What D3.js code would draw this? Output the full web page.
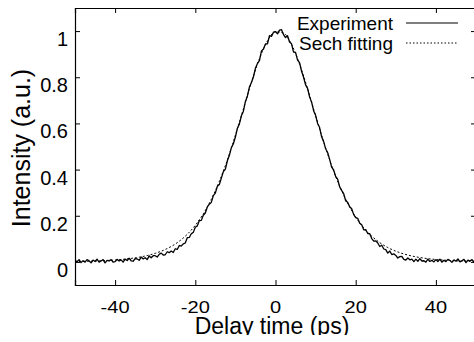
<!DOCTYPE html>
<html><head><meta charset="utf-8">
<script src="https://cdn.jsdelivr.net/npm/d3@7"></script>
<style>
html,body{margin:0;padding:0;background:#fff;}
svg{display:block;font-family:"Liberation Sans",Arial,Helvetica,sans-serif;}
</style></head>
<body>
<script>
// Experimental autocorrelation trace, delay from -50 ps to 50 ps in 0.5 ps steps
const expStart = -50, expStep = 0.5;
const expValues = [
0.008,0.000,0.010,-0.003,0.005,-0.001,0.010,0.005,-0.004,0.008,
0.002,0.012,-0.001,0.004,0.010,-0.004,0.007,0.004,0.010,-0.001,
0.001,0.011,0.004,0.009,-0.001,0.012,0.006,0.016,0.005,0.003,
0.014,0.013,0.007,0.021,0.013,0.018,0.010,0.026,0.018,0.027,
0.027,0.021,0.033,0.038,0.030,0.031,0.044,0.040,0.047,0.041,
0.057,0.054,0.071,0.069,0.078,0.082,0.105,0.106,0.122,0.128,
0.150,0.156,0.179,0.180,0.202,0.212,0.238,0.250,0.258,0.287,
0.298,0.328,0.335,0.363,0.391,0.402,0.438,0.462,0.495,0.512,
0.541,0.579,0.598,0.633,0.653,0.695,0.719,0.758,0.777,0.802,
0.839,0.860,0.872,0.914,0.922,0.944,0.945,0.980,0.977,0.995,
0.998,0.988,1.004,1.006,0.985,0.972,0.980,0.953,0.945,0.909,
0.908,0.874,0.863,0.826,0.800,0.767,0.752,0.715,0.692,0.655,
0.635,0.600,0.582,0.542,0.522,0.490,0.474,0.444,0.411,0.399,
0.370,0.359,0.325,0.310,0.296,0.265,0.258,0.239,0.230,0.205,
0.192,0.189,0.168,0.161,0.139,0.140,0.123,0.122,0.101,0.090,
0.091,0.082,0.067,0.072,0.056,0.053,0.038,0.047,0.032,0.035,
0.028,0.017,0.023,0.024,0.011,0.008,0.017,0.009,0.012,0.001,
0.012,0.003,0.014,0.004,0.005,-0.001,0.012,0.002,0.007,0.000,
0.010,0.002,0.012,-0.001,0.007,0.001,0.011,0.006,-0.002,0.009,
0.003,0.013,0.000,0.005,0.011,-0.003,0.008,0.004,0.010,-0.001,
0.008
];
// Sech^2 fit, -50 ps to 50 ps in 2 ps steps
const fitStart = -50, fitStep = 2;
const fitValues = [
0.0018,0.0025,0.0034,0.0045,0.0061,0.0083,0.0112,0.0152,0.0205,0.0276,
0.0371,0.050,0.0671,0.0896,0.1197,0.1587,0.2085,0.2715,0.3494,0.442,
0.549,0.663,0.778,0.881,0.958,0.997,0.991,0.942,0.857,0.750,
0.634,0.521,0.417,0.3286,0.2543,0.1949,0.1477,0.1115,0.0835,0.0624,
0.0465,0.0346,0.0256,0.0191,0.0141,0.0104,0.0077,0.0057,0.0042,0.0031,
0.0023
];
const xTicks = [-40,-20,0,20,40];
const yTicks = [0,0.2,0.4,0.6,0.8,1];
const yTickLabels = ["0","0.2","0.4","0.6","0.8","1"];
const seriesNames = ["Experiment","Sech fitting"];
const xTitle = "Delay time (ps)";
const yTitle = "Intensity (a.u.)";

const W = 474, H = 335;
const svg = d3.select("body").append("svg").attr("width", W).attr("height", H);
const x = d3.scaleLinear().domain([-50,50]).range([75,476]);
const y = d3.scaleLinear().domain([-0.1,1.1]).range([285,8]);

const expData = expValues.map((v,i)=>[expStart+i*expStep, v]);
const fitData = fitValues.map((v,i)=>[fitStart+i*fitStep, v]);

svg.append("clipPath").attr("id","clip").append("rect")
  .attr("x",x(-50)).attr("y",y(1.1)).attr("width",x(50)-x(-50)).attr("height",y(-0.1)-y(1.1));

const plot = svg.append("g").attr("clip-path","url(#clip)");
plot.append("path").datum(fitData)
  .attr("d", d3.line().x(d=>x(d[0])).y(d=>y(d[1])).curve(d3.curveMonotoneX))
  .attr("fill","none").attr("stroke","#000").attr("stroke-width",1).attr("stroke-dasharray","2,2");
plot.append("path").datum(expData)
  .attr("d", d3.line().x(d=>x(d[0])).y(d=>y(d[1])))
  .attr("fill","none").attr("stroke","#000").attr("stroke-width",1.3).attr("stroke-linejoin","round");

// frame with inward mirrored ticks
const tl = 5;
const axB = svg.append("g").attr("transform",`translate(0,${y(-0.1)})`)
  .call(d3.axisBottom(x).tickValues(xTicks).tickSize(-tl).tickFormat(""));
const axT = svg.append("g").attr("transform",`translate(0,${y(1.1)})`)
  .call(d3.axisTop(x).tickValues(xTicks).tickSize(-tl).tickFormat(""));
const axL = svg.append("g").attr("transform",`translate(${x(-50)},0)`)
  .call(d3.axisLeft(y).tickValues(yTicks).tickSize(-tl).tickFormat(""));
const axR = svg.append("g").attr("transform",`translate(${x(50)},0)`)
  .call(d3.axisRight(y).tickValues(yTicks).tickSize(-tl).tickFormat(""));
[axB,axT,axL,axR].forEach(a=>{
  a.selectAll(".domain").attr("stroke","#000").attr("stroke-width",1.2);
  a.selectAll(".tick line").attr("stroke","#000").attr("stroke-width",1);
});

// tick labels
svg.append("g").selectAll("text").data(yTicks).join("text")
  .attr("x",68).attr("y",d=>y(d)+15)
  .attr("text-anchor","end").attr("font-size",20).attr("fill","#000")
  .text((d,i)=>yTickLabels[i]);
svg.append("g").selectAll("text").data(xTicks).join("text")
  .attr("transform",d=>`translate(${x(d)},313) scale(1.18,1)`)
  .attr("text-anchor","middle").attr("font-size",17).attr("fill","#000")
  .text(d=>d);

// titles
svg.append("text").attr("transform","translate(30,148) rotate(-90)")
  .attr("text-anchor","middle").attr("font-size",25).attr("fill","#000").text(yTitle);
svg.append("text").attr("x",272).attr("y",334)
  .attr("text-anchor","middle").attr("font-size",23).attr("fill","#000").text(xTitle);

// legend
const leg = svg.append("g");
const legY = [23,43];
leg.selectAll("text").data(seriesNames).join("text")
  .attr("x",393).attr("y",(d,i)=>legY[i]+6.5)
  .attr("text-anchor","end").attr("font-size",19).attr("fill","#000").text(d=>d);
leg.append("line").attr("x1",406).attr("x2",458).attr("y1",legY[0]).attr("y2",legY[0])
  .attr("stroke","#000").attr("stroke-width",1.2);
leg.append("line").attr("x1",406).attr("x2",458).attr("y1",legY[1]).attr("y2",legY[1])
  .attr("stroke","#000").attr("stroke-width",1).attr("stroke-dasharray","1.5,2");
</script>
</body></html>
